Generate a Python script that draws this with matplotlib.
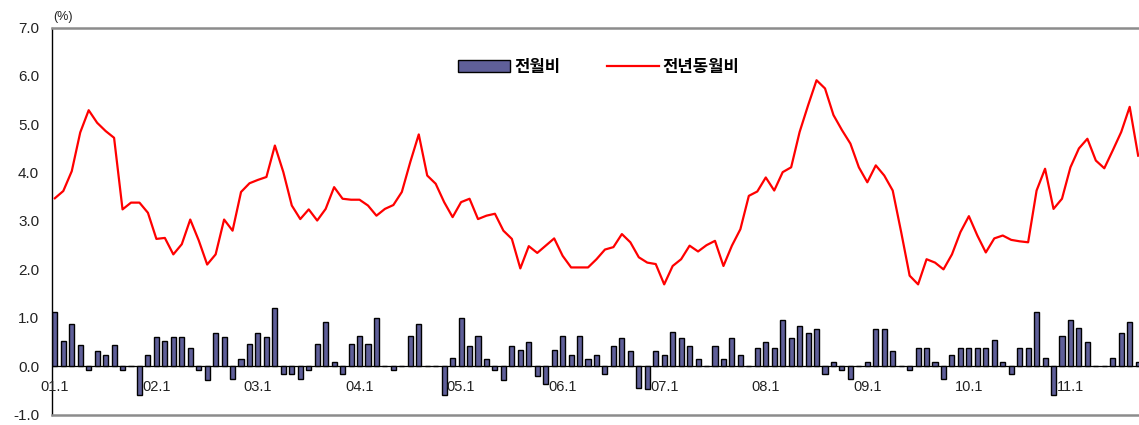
import matplotlib
matplotlib.use("Agg")
import matplotlib.pyplot as plt
from matplotlib.patches import Patch
from matplotlib.lines import Line2D
import numpy as np

# monthly CPI changes, 2001.1 - 2011.9
mom = [1.12, 0.52, 0.88, 0.43, -0.08, 0.31, 0.22, 0.43, -0.08, 0.0, -0.6, 0.22,
       0.6, 0.52, 0.6, 0.6, 0.38, -0.08, -0.29, 0.68, 0.6, -0.26, 0.14, 0.46,
       0.68, 0.6, 1.2, -0.16, -0.16, -0.26, -0.08, 0.46, 0.92, 0.09, -0.16, 0.46,
       0.62, 0.46, 1.0, 0.0, -0.08, 0.0, 0.62, 0.88, 0.0, 0.0, -0.59, 0.17,
       1.0, 0.41, 0.62, 0.14, -0.08, -0.29, 0.41, 0.34, 0.5, -0.2, -0.36, 0.34,
       0.62, 0.22, 0.62, 0.14, 0.22, -0.16, 0.41, 0.59, 0.31, -0.45, -0.48, 0.31,
       0.22, 0.71, 0.59, 0.41, 0.14, 0.0, 0.41, 0.14, 0.59, 0.22, 0.0, 0.38,
       0.5, 0.38, 0.95, 0.59, 0.83, 0.68, 0.76, -0.16, 0.09, -0.08, -0.26, 0.0,
       0.09, 0.76, 0.76, 0.31, 0.0, -0.08, 0.38, 0.38, 0.09, -0.26, 0.22, 0.38,
       0.38, 0.38, 0.38, 0.55, 0.09, -0.16, 0.38, 0.38, 1.12, 0.17, -0.59, 0.62,
       0.95, 0.79, 0.5, 0.0, 0.0, 0.17, 0.68, 0.91, 0.09]

yoy = [3.47, 3.62, 4.03, 4.83, 5.29, 5.03, 4.86, 4.72, 3.24, 3.38, 3.38, 3.17,
       2.63, 2.65, 2.31, 2.52, 3.03, 2.6, 2.1, 2.31, 3.03, 2.8, 3.6, 3.78,
       3.85, 3.91, 4.56, 4.01, 3.32, 3.04, 3.24, 3.01, 3.25, 3.70, 3.46, 3.44,
       3.44, 3.32, 3.11, 3.25, 3.33, 3.60, 4.22, 4.79, 3.94, 3.77, 3.39, 3.08,
       3.39, 3.46, 3.04, 3.11, 3.15, 2.80, 2.63, 2.02, 2.48, 2.34, 2.49, 2.64,
       2.28, 2.04, 2.04, 2.04, 2.21, 2.41, 2.46, 2.73, 2.56, 2.25, 2.14, 2.11,
       1.69, 2.07, 2.21, 2.49, 2.37, 2.50, 2.59, 2.07, 2.49, 2.83, 3.52, 3.61,
       3.90, 3.63, 4.01, 4.11, 4.84, 5.39, 5.91, 5.74, 5.19, 4.88, 4.60, 4.11,
       3.80, 4.15, 3.94, 3.63, 2.77, 1.87, 1.69, 2.21, 2.14, 2.0, 2.31, 2.77,
       3.10, 2.70, 2.35, 2.64, 2.70, 2.61, 2.58, 2.56, 3.63, 4.08, 3.25, 3.46,
       4.11, 4.50, 4.70, 4.25, 4.09, 4.46, 4.84, 5.36, 4.35]

year_labels = ["01.1", "02.1", "03.1", "04.1", "05.1", "06.1",
               "07.1", "08.1", "09.1", "10.1", "11.1"]

font = "Liberation Sans"
x = np.arange(len(mom))

fig = plt.figure(figsize=(11.39, 4.25), dpi=100)
ax = fig.add_axes([51.7 / 1139, 1 - 414.5 / 425, (1139 - 51.7) / 1139, 387 / 425])

ax.bar(x, mom, width=0.6, color="#5f5f99", edgecolor="black", linewidth=1.0, zorder=2)
ax.plot(x, yoy, color="#ff0000", lw=1.6, zorder=3)
ax.axhline(0, color="black", lw=0.9, zorder=1)

ax.set_xlim(-0.37, 128.1)
ax.set_ylim(-1, 7)
ax.set_yticks(np.arange(-1, 8, 1))
ax.set_yticklabels([f"{v:.1f}" for v in np.arange(-1, 8, 1)], fontfamily=font, fontsize=11, color="#222222")
ax.tick_params(axis="y", length=0, pad=9)
ax.set_xticks([])

for i, lab in enumerate(year_labels):
    ax.text(i * 12, -0.44, lab, ha="center", va="center", fontfamily=font,
            fontsize=10.5, color="#222222", zorder=4)

ax.spines["right"].set_visible(False)
ax.spines["left"].set_color("black")
ax.spines["left"].set_linewidth(1.0)
for s in ["top", "bottom"]:
    ax.spines[s].set_color("#8c8c8c")
    ax.spines[s].set_linewidth(1.8)

fig.text(53 / 1139, 1 - 17 / 425, "(%)", fontfamily=font, fontsize=9, va="center", ha="left", color="#222222")

handles = [Patch(facecolor="#5f5f99", edgecolor="black", linewidth=1.0),
           Line2D([0], [0], color="#ff0000", lw=1.6)]
leg = ax.legend(handles, ["전월비", "전년동월비"], ncol=2, frameon=False,
                loc="center", bbox_to_anchor=(599 / 1139, 1 - 67 / 425),
                bbox_transform=fig.transFigure, handlelength=3.1, handletextpad=0.25,
                columnspacing=2.8,
                prop={"family": ["Noto Sans CJK KR", "DejaVu Sans"], "size": 12, "weight": "bold"})

fig.savefig("out.png", dpi=100)
